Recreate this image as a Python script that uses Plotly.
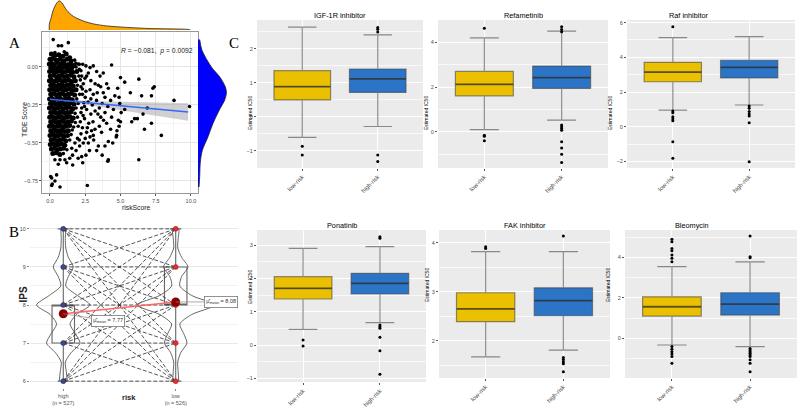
import plotly.graph_objects as go

W, H = 797, 410

def xd(a, b):
    return [a / W, b / W]

def yd(top, bottom):
    return [1 - bottom / H, 1 - top / H]

# ---------------- Panel A data (riskScore vs TIDE Score) ----------------
core_points = [
    (0.10,0.085),(0.35,0.075),(0.62,0.08),(0.90,0.07),(1.15,0.085),(1.40,0.06),
    (0.00,0.05),(0.20,0.055),(0.45,0.045),(0.70,0.05),(0.95,0.04),(1.20,0.05),(1.50,0.04),
    (-0.05,0.02),(0.12,0.025),(0.30,0.015),(0.50,0.03),(0.75,0.02),(0.98,0.025),(1.25,0.015),(1.45,0.02),(1.70,0.01),
    (0.05,-0.005),(0.22,0.0),(0.40,-0.01),(0.60,0.0),(0.85,-0.005),(1.05,0.0),(1.30,-0.01),(1.55,-0.005),
    (-0.03,-0.03),(0.15,-0.025),(0.33,-0.035),(0.52,-0.03),(0.72,-0.025),(0.92,-0.035),(1.12,-0.03),(1.35,-0.025),(1.60,-0.035),(1.90,-0.03),
    (0.02,-0.06),(0.25,-0.055),(0.45,-0.065),(0.65,-0.06),(0.82,-0.055),(1.00,-0.065),(1.22,-0.06),(1.45,-0.055),(1.70,-0.065),
    (-0.04,-0.09),(0.10,-0.085),(0.30,-0.095),(0.50,-0.09),(0.70,-0.085),(0.90,-0.095),(1.10,-0.09),(1.32,-0.085),(1.55,-0.095),(1.80,-0.09),
    (0.05,-0.12),(0.20,-0.115),(0.40,-0.125),(0.60,-0.12),(0.80,-0.115),(1.00,-0.125),(1.20,-0.12),(1.42,-0.115),(1.65,-0.125),
    (-0.02,-0.15),(0.15,-0.145),(0.35,-0.155),(0.55,-0.15),(0.75,-0.145),(0.95,-0.155),(1.15,-0.15),(1.38,-0.145),(1.60,-0.155),(1.85,-0.15),
    (0.05,-0.18),(0.25,-0.175),(0.45,-0.185),(0.65,-0.18),(0.85,-0.175),(1.05,-0.185),(1.28,-0.18),(1.50,-0.175),(1.75,-0.185),
    (-0.03,-0.21),(0.12,-0.205),(0.32,-0.215),(0.52,-0.21),(0.72,-0.205),(0.92,-0.215),(1.12,-0.21),(1.35,-0.205),(1.58,-0.215),
    (0.03,-0.24),(0.22,-0.235),(0.42,-0.245),(0.62,-0.24),(0.82,-0.235),(1.02,-0.245),(1.22,-0.24),(1.45,-0.235),(1.70,-0.245),
    (-0.04,-0.27),(0.15,-0.265),(0.35,-0.275),(0.55,-0.27),(0.75,-0.265),(0.95,-0.275),(1.15,-0.27),(1.38,-0.265),(1.62,-0.275),
    (0.05,-0.30),(0.25,-0.295),(0.45,-0.305),(0.65,-0.30),(0.85,-0.295),(1.05,-0.305),(1.25,-0.30),(1.50,-0.295),
    (-0.02,-0.33),(0.18,-0.325),(0.38,-0.335),(0.58,-0.33),(0.78,-0.325),(0.98,-0.335),(1.18,-0.33),(1.40,-0.325),(1.65,-0.335),
    (0.05,-0.36),(0.25,-0.355),(0.45,-0.365),(0.65,-0.36),(0.85,-0.355),(1.05,-0.365),(1.28,-0.36),(1.52,-0.355),
    (-0.03,-0.39),(0.15,-0.385),(0.35,-0.395),(0.55,-0.39),(0.75,-0.385),(0.95,-0.395),(1.15,-0.39),(1.40,-0.385),
    (0.05,-0.42),(0.25,-0.415),(0.45,-0.425),(0.65,-0.42),(0.85,-0.415),(1.05,-0.425),(1.30,-0.42),
    (0.00,-0.45),(0.20,-0.445),(0.40,-0.455),(0.60,-0.45),(0.80,-0.445),(1.00,-0.455),(1.25,-0.45),
    (0.08,-0.48),(0.28,-0.475),(0.50,-0.485),(0.70,-0.48),(0.90,-0.475),(1.12,-0.485),
    (0.02,-0.51),(0.22,-0.505),(0.42,-0.515),(0.62,-0.51),(0.82,-0.505),(1.05,-0.515),
    (0.10,-0.54),(0.30,-0.535),(0.50,-0.545),(0.72,-0.54),(0.95,-0.535),
    (0.20,-0.57),(0.45,-0.565),(0.70,-0.575),
]
spread_points = [
    (0.23,0.18),(0.59,0.14),(0.83,0.14),(1.30,0.16),(0.35,0.095),(1.01,0.10),
    (1.75,0.045),(2.00,0.02),(1.85,0.0),(2.20,-0.025),(2.05,-0.06),(2.15,-0.085),(1.95,-0.12),
    (2.30,-0.145),(2.10,-0.18),(1.90,-0.21),(2.00,-0.24),(2.40,-0.235),(1.85,-0.27),(1.78,-0.305),
    (2.20,-0.30),(1.95,-0.33),(1.80,-0.365),(1.68,-0.395),(2.00,-0.39),(1.58,-0.415),(1.50,-0.445),
    (1.40,-0.48),(1.20,-0.545),(0.95,-0.57),
    (1.84,0.024),(2.08,0.018),(2.32,0.018),(2.55,0.007),(2.08,-0.015),(2.84,-0.004),(3.07,0.007),
    (3.31,-0.03),(2.72,-0.04),(3.55,-0.06),(3.78,-0.04),(3.43,-0.12),(4.02,-0.11),(4.14,-0.14),
    (3.78,-0.17),(2.84,-0.15),(3.07,-0.18),(4.37,0.013),(2.36,-0.11),(2.48,-0.074),
    (2.50,-0.20),(2.70,-0.23),(3.00,-0.25),(3.30,-0.22),(2.60,-0.28),(2.90,-0.31),(3.20,-0.29),
    (3.50,-0.27),(2.45,-0.34),(2.75,-0.37),(3.05,-0.36),(3.60,-0.33),(3.90,-0.30),(2.30,-0.40),(2.60,-0.43),
    (4.30,-0.22),(4.60,-0.19),(4.50,-0.28),
    (5.00,-0.07),(5.30,-0.10),(6.30,-0.08),(4.80,-0.14),(5.70,-0.17),(6.50,-0.19),(7.20,-0.19),
    (7.30,-0.14),(7.40,-0.13),(8.80,-0.22),(9.90,-0.26),(6.90,-0.27),(5.30,-0.28),(6.60,-0.31),
    (6.20,-0.34),(6.00,-0.34),(5.80,-0.36),(7.20,-0.37),(5.00,-0.36),(4.90,-0.39),(6.70,-0.41),
    (7.90,-0.45),(4.70,-0.46),(6.30,-0.61),(4.10,-0.62),
    (0.35,-0.61),(0.71,-0.61),(1.06,-0.61),(1.18,-0.63),(1.61,-0.645),(0.59,-0.64),(2.32,-0.63),
    (2.25,-0.59),(2.36,-0.50),(2.72,-0.50),(2.84,-0.46),(3.07,-0.45),(3.43,-0.52),(3.31,-0.55),
    (3.19,-0.41),(3.66,-0.43),(4.02,-0.37),(4.37,-0.33),(4.14,-0.49),(4.14,-0.61),(4.73,-0.45),
    (4.85,-0.35),(1.54,-0.535),(1.77,-0.50),(2.08,-0.48),
    (0.12,-0.73),(0.47,-0.71),(0.35,-0.75),(0.12,-0.78),(0.71,-0.79),(2.65,-0.78),(0.05,-0.72),(0.16,-0.77),
    (4.90,-0.20),(4.95,-0.24),(5.05,-0.30),(4.75,-0.42),
    (2.60,-0.06),(2.90,-0.09),(3.20,-0.11),(3.60,-0.13),(2.55,-0.16),(3.35,-0.17),(3.90,-0.20),
    (2.90,-0.21),(3.70,-0.24),(4.10,-0.26),(2.45,-0.26),(3.40,-0.31),(3.80,-0.35),(2.65,-0.40),
    (2.95,-0.42),(3.50,-0.39),(4.30,-0.41),(3.10,-0.48),(2.50,-0.47),(3.90,-0.52),(2.80,-0.55),
    (4.45,-0.50),(3.70,-0.58),(2.55,-0.58),(2.25,-0.06),(2.20,-0.13),(2.30,-0.18),(2.25,-0.27),
    (2.35,-0.32),(2.15,-0.36),(2.20,-0.44),(1.95,-0.47),(2.10,-0.52),(1.85,-0.55),(1.60,-0.58),
    (1.40,-0.60),(2.00,-0.60),
]
fit_x = [0.0, 1.5, 3.0, 5.0, 7.5, 9.8]
fit_y = [-0.213, -0.226, -0.238, -0.255, -0.277, -0.296]
fit_lo = [-0.225, -0.234, -0.252, -0.281, -0.319, -0.353]
fit_hi = [-0.201, -0.218, -0.224, -0.229, -0.235, -0.239]
corr_text = "<i>R</i> = −0.081,  <i>p</i> = 0.0092"

risk_dens_x = [-0.05, -0.05, 0.10, 0.23, 0.47, 0.66, 0.85, 1.18, 1.65, 2.36, 3.07, 4.02, 5.44, 7.09, 9.93, 9.93]
risk_dens_y = [0.0, 0.19, 0.45, 0.68, 0.92, 1.0, 0.93, 0.68, 0.47, 0.31, 0.21, 0.14, 0.09, 0.05, 0.01, 0.0]
tide_dens_y = [0.18, 0.11, 0.0, -0.064, -0.13, -0.17, -0.217, -0.28, -0.37, -0.46, -0.55, -0.63, -0.72, -0.79]
tide_dens_x = [0.06, 0.14, 0.47, 0.76, 0.96, 1.0, 0.94, 0.76, 0.53, 0.35, 0.15, 0.08, 0.06, 0.035]

# ---------------- Panel B data (IPS by risk) ----------------
ips_levels = [6, 7, 8, 9, 10]
ips_grid = [6.0, 6.25, 6.5, 6.75, 7.0, 7.25, 7.5, 7.75, 8.0, 8.25, 8.5, 8.75, 9.0, 9.25, 9.5, 9.75, 10.0]
violin_high = [0.036, 0.027, 0.018, 0.07, 0.149, 0.107, 0.06, 0.116, 0.238, 0.125, 0.022, 0.045, 0.089, 0.045, 0.022, 0.018, 0.018]
violin_low = [0.027, 0.022, 0.018, 0.045, 0.10, 0.071, 0.036, 0.142, 0.347, 0.142, 0.036, 0.053, 0.109, 0.053, 0.018, 0.022, 0.027]
ips_groups = ["high<br>(n = 527)", "low<br>(n = 526)"]
ips_q1 = [7, 8]
ips_median = [8, 8]
ips_q3 = [8, 9]
ips_min = [6, 6]
ips_max = [10, 10]
ips_mean = [7.77, 8.08]

# ---------------- Panel C data (estimated IC50) ----------------
drugs = ["IGF-1R inhibitor", "Refametinib", "Raf inhibitor", "Ponatinib", "FAK inhibitor", "Bleomycin"]
risk_groups = ["low-risk", "high-risk"]
low_q1 = [0.50, 1.61, 2.59, 1.38, 2.39, 1.10]
low_med = [0.89, 2.12, 3.15, 1.70, 2.65, 1.56]
low_q3 = [1.36, 2.70, 3.71, 2.05, 2.98, 2.05]
low_lo = [-0.60, 0.10, 0.96, 0.47, 1.67, -0.33]
low_hi = [2.64, 4.20, 5.13, 2.90, 3.82, 3.54]
high_q1 = [0.72, 1.94, 2.81, 1.53, 2.51, 1.15]
high_med = [1.12, 2.42, 3.42, 1.85, 2.82, 1.69]
high_q3 = [1.41, 2.94, 3.83, 2.15, 3.08, 2.25]
high_lo = [-0.28, 0.52, 1.25, 0.67, 1.81, -0.41]
high_hi = [2.41, 4.50, 5.19, 2.95, 3.82, 3.78]
low_out = [
    [-0.86, -1.12],
    [4.63, -0.15, -0.20, -0.40],
    [5.76, 0.90, 0.80, 0.58, 0.46, 0.35, -0.86, -1.82],
    [0.15, -0.03],
    [3.92, 3.88],
    [4.89, 4.77, 4.44, 4.33, 4.11, 3.95, 3.78, -0.41, -0.54, -0.66, -0.77, -0.90, -1.23],
]
high_out = [
    [2.50, 2.58, 2.63, -1.12, -1.31],
    [4.70, 4.58, 4.47, 0.30, 0.22, 0.15, 0.07, -0.45, -0.72, -1.00, -1.37],
    [1.19, 1.06, 0.87, 0.73, 0.62, 0.23, -2.02],
    [3.25, 3.20, 0.60, 0.55, 0.50, 0.23, -0.17, -0.88],
    [4.14, 1.66, 1.62, 1.57, 1.53, 1.37],
    [5.05, 4.03, 3.98, -0.50, -0.58, -0.66, -0.74, -0.82, -0.90, -1.06, -1.23, -1.65],
]

FONT = "Liberation Sans, Arial, sans-serif"
fig = go.Figure()

# ---- Panel A ----
fig.add_trace(go.Scatter(x=fit_x + fit_x[::-1], y=fit_hi + fit_lo[::-1], fill="toself",
                         fillcolor="rgba(150,150,150,0.45)", line=dict(width=0), mode="lines",
                         xaxis="x", yaxis="y", hoverinfo="skip"))
fig.add_trace(go.Scatter(x=[p[0] for p in core_points], y=[p[1] for p in core_points], mode="markers",
                         marker=dict(color="black", size=5), xaxis="x", yaxis="y", hoverinfo="skip"))
fig.add_trace(go.Scatter(x=[p[0] for p in spread_points], y=[p[1] for p in spread_points], mode="markers",
                         marker=dict(color="black", size=3.6), xaxis="x", yaxis="y", hoverinfo="skip"))
fig.add_trace(go.Scatter(x=fit_x, y=fit_y, mode="lines", line=dict(color="#3366FF", width=1.5),
                         xaxis="x", yaxis="y", hoverinfo="skip"))
fig.add_trace(go.Scatter(x=risk_dens_x, y=risk_dens_y, mode="lines", fill="tozeroy", fillcolor="#FFA500",
                         line=dict(color="#222222", width=0.8, shape="spline", smoothing=0.8),
                         xaxis="x2", yaxis="y2", hoverinfo="skip"))
fig.add_trace(go.Scatter(x=tide_dens_x, y=tide_dens_y, mode="lines", fill="tozerox", fillcolor="#0000FF",
                         line=dict(color="#222222", width=0.8, shape="spline", smoothing=0.8),
                         xaxis="x3", yaxis="y3", hoverinfo="skip"))

# ---- Panel B ----
lx, ly = [], []
for a in ips_levels:
    for b in ips_levels:
        lx += [1, 2, None]
        ly += [a, b, None]
fig.add_trace(go.Scatter(x=lx, y=ly, mode="lines", line=dict(color="rgba(30,30,30,0.85)", width=0.9, dash="4px,2px"),
                         xaxis="x4", yaxis="y4", hoverinfo="skip"))
for gi, widths in enumerate([violin_high, violin_low]):
    c = gi + 1
    vx = [c - w for w in widths] + [c + w for w in widths[::-1]]
    vy = ips_grid + ips_grid[::-1]
    fig.add_trace(go.Scatter(x=vx, y=vy, mode="lines", line=dict(color="#555555", width=0.9, shape="spline", smoothing=0.7),
                             xaxis="x4", yaxis="y4", hoverinfo="skip"))
    fig.add_trace(go.Box(x=[c], q1=[ips_q1[gi]], median=[ips_median[gi]], q3=[ips_q3[gi]],
                         lowerfence=[ips_min[gi]], upperfence=[ips_max[gi]], orientation="v", width=0.2,
                         fillcolor="rgba(0,0,0,0)", line=dict(color="#666666", width=1.1),
                         xaxis="x4", yaxis="y4", hoverinfo="skip"))
fig.add_trace(go.Scatter(x=[1] * len(ips_levels), y=ips_levels, mode="markers",
                         marker=dict(color="#3B4A8C", size=5, line=dict(color="#222244", width=0.5)),
                         xaxis="x4", yaxis="y4", hoverinfo="skip"))
fig.add_trace(go.Scatter(x=[2] * len(ips_levels), y=ips_levels, mode="markers",
                         marker=dict(color="#EE2A24", size=5, line=dict(color="#992222", width=0.5)),
                         xaxis="x4", yaxis="y4", hoverinfo="skip"))
fig.add_trace(go.Scatter(x=[1, 2], y=ips_mean, mode="lines+markers",
                         line=dict(color="#FF6666", width=1.4),
                         marker=dict(color="#8B0000", size=9),
                         xaxis="x4", yaxis="y4", hoverinfo="skip"))

# ---- Panel C ----
YEL, BLU = "#EBC000", "#2C75C6"
for i in range(6):
    ax_, ay_ = "x%d" % (i + 5), "y%d" % (i + 5)
    for pos, col, q1, md, q3, lo, hi, outs in [
        (1, YEL, low_q1[i], low_med[i], low_q3[i], low_lo[i], low_hi[i], low_out[i]),
        (2, BLU, high_q1[i], high_med[i], high_q3[i], high_lo[i], high_hi[i], high_out[i]),
    ]:
        fig.add_trace(go.Box(x=[pos], q1=[q1], median=[md], q3=[q3], lowerfence=[lo], upperfence=[hi],
                             orientation="v", width=0.75, fillcolor=col,
                             line=dict(color="rgba(70,70,70,0.6)", width=1.2),
                             xaxis=ax_, yaxis=ay_, hoverinfo="skip"))
        fig.add_trace(go.Scatter(x=[pos - 0.375, pos + 0.375], y=[md, md], mode="lines",
                                 line=dict(color="rgba(40,40,40,0.6)", width=1.8),
                                 xaxis=ax_, yaxis=ay_, hoverinfo="skip"))
        fig.add_trace(go.Scatter(x=[pos] * len(outs), y=outs, mode="markers",
                                 marker=dict(color="black", size=3),
                                 xaxis=ax_, yaxis=ay_, hoverinfo="skip"))

# ---------------- Layout ----------------
tickfont = dict(family=FONT, size=5.5, color="#4D4D4D")
layout = dict(
    width=W, height=H, margin=dict(l=0, r=0, t=0, b=0),
    paper_bgcolor="white", plot_bgcolor="rgba(0,0,0,0)",
    showlegend=False, boxmode="overlay", font=dict(family=FONT),
)
layout["xaxis"] = dict(domain=xd(42, 198), range=[-0.567, 10.5], tickvals=[0, 2.5, 5, 7.5, 10],
                       ticktext=["0.0", "2.5", "5.0", "7.5", "10.0"], tickfont=tickfont,
                       showgrid=True, gridcolor="#E5E5E5", gridwidth=0.7,
                       minor=dict(showgrid=True, gridcolor="#F3F3F3", gridwidth=0.5, tickvals=[1.25, 3.75, 6.25, 8.75]),
                       showline=True, mirror=True, linecolor="#999999", linewidth=0.8,
                       ticks="outside", ticklen=2, tickcolor="#555555", zeroline=False, anchor="y")
layout["yaxis"] = dict(domain=yd(32, 193), range=[-0.829, 0.23], tickvals=[-0.75, -0.5, -0.25, 0],
                       ticktext=["−0.75", "−0.50", "−0.25", "0.00"], tickfont=tickfont,
                       showgrid=True, gridcolor="#E5E5E5", gridwidth=0.7,
                       minor=dict(showgrid=True, gridcolor="#F3F3F3", gridwidth=0.5, tickvals=[-0.625, -0.375, -0.125, 0.125]),
                       showline=True, mirror=True, linecolor="#999999", linewidth=0.8,
                       ticks="outside", ticklen=2, tickcolor="#555555", zeroline=False, anchor="x")
layout["xaxis2"] = dict(domain=xd(42, 198), range=[-0.567, 10.5], visible=False, anchor="y2")
layout["yaxis2"] = dict(domain=yd(0, 30), range=[0, 1.03], visible=False, anchor="x2")
layout["xaxis3"] = dict(domain=xd(198, 227), range=[0, 1.02], visible=False, anchor="y3")
layout["yaxis3"] = dict(domain=yd(32, 193), range=[-0.829, 0.23], visible=False, anchor="x3")
layout["xaxis4"] = dict(domain=xd(30, 238), range=[0.704, 2.554], tickvals=[1, 2], ticktext=ips_groups,
                        tickfont=dict(family=FONT, size=5.5, color="#555555"), showgrid=False, zeroline=False,
                        ticks="outside", ticklen=2, tickcolor="#888888", anchor="y4")
layout["yaxis4"] = dict(domain=yd(222, 388), range=[5.82, 10.18], tickvals=ips_levels, tickfont=tickfont,
                        showgrid=True, gridcolor="#E8E8E8", gridwidth=0.7,
                        minor=dict(showgrid=True, gridcolor="#F2F2F2", gridwidth=0.5, tickvals=[6.5, 7.5, 8.5, 9.5]),
                        zeroline=False, ticks="outside", ticklen=2, tickcolor="#888888", anchor="x4")

c_dom = [(257, 423, 20, 168), (438, 608, 20, 168), (627, 795, 20, 168),
         (257, 426, 230, 382), (439, 610, 230, 378), (625, 797, 230, 378)]
c_yr = [[-1.5, 2.85], [-1.62, 5.0], [-2.38, 6.15], [-1.11, 3.45], [1.24, 4.26], [-1.96, 5.35]]
c_dt = [1, 2, 2, 1, 1, 2]
shapes = []
annotations = []
for i in range(6):
    l, r, t, b = c_dom[i]
    n = i + 5
    layout["xaxis%d" % n] = dict(domain=xd(l, r), range=[0.4, 2.6], tickvals=[1, 2], ticktext=risk_groups,
                                 tickangle=-45, tickfont=dict(family=FONT, size=6, color="#4D4D4D"),
                                 showgrid=True, gridcolor="white", gridwidth=1, zeroline=False,
                                 ticks="outside", ticklen=2, tickcolor="#555555", anchor="y%d" % n)
    layout["yaxis%d" % n] = dict(domain=yd(t, b), range=c_yr[i], dtick=c_dt[i], tick0=0, tickfont=tickfont,
                                 showgrid=True, gridcolor="white", gridwidth=1, zeroline=False,
                                 minor=dict(showgrid=True, gridcolor="rgba(255,255,255,0.7)", gridwidth=0.5, dtick=c_dt[i] / 2),
                                 ticks="outside", ticklen=2, tickcolor="#555555", anchor="x%d" % n)
    shapes.append(dict(type="rect", xref="x%d domain" % n, yref="y%d domain" % n, x0=0, x1=1, y0=0, y1=1,
                       fillcolor="#EBEBEB", line=dict(width=0), layer="below"))
    annotations.append(dict(text=drugs[i], x=(l + r) / 2 / W, y=1 - (t - 5) / H, xref="paper", yref="paper",
                            showarrow=False, font=dict(family=FONT, size=7.3, color="black"), yanchor="middle"))
    annotations.append(dict(text="Estimated IC50", x=(l - 12) / W, y=1 - ((t + b) / 2) / H, xref="paper", yref="paper",
                            showarrow=False, textangle=-90, font=dict(family=FONT, size=5, color="black")))

annotations += [
    dict(text=corr_text, x=195 / W, y=1 - 45 / H, xref="paper", yref="paper", xanchor="right", showarrow=False,
         font=dict(family=FONT, size=6.8, color="#222222")),
    dict(text="TIDE Score", x=19 / W, y=1 - 100 / H, xref="paper", yref="paper", textangle=-90, showarrow=False,
         font=dict(family=FONT, size=6.8, color="#222222")),
    dict(text="riskScore", x=120 / W, y=1 - 207 / H, xref="paper", yref="paper", showarrow=False,
         font=dict(family=FONT, size=6.8, color="#222222")),
    dict(text="<b>IPS</b>", x=15 / W, y=1 - 305 / H, xref="paper", yref="paper", textangle=-90, showarrow=False,
         font=dict(family=FONT, size=10, color="#222222")),
    dict(text="<b>risk</b>", x=120 / W, y=1 - 404 / H, xref="paper", yref="paper", showarrow=False,
         font=dict(family=FONT, size=7.5, color="#222222")),
    dict(text="μ̂<sub>mean</sub> = 7.77", x=1, y=ips_mean[0], xref="x4", yref="y4", ax=45, ay=7,
         showarrow=True, arrowhead=0, arrowwidth=0.7, arrowcolor="#888888",
         bordercolor="#777777", borderwidth=0.8, borderpad=1.5, bgcolor="white",
         font=dict(family=FONT, size=5.5, color="#333333")),
    dict(text="μ̂<sub>mean</sub> = 8.08", x=2, y=ips_mean[1], xref="x4", yref="y4", ax=45, ay=0,
         showarrow=True, arrowhead=0, arrowwidth=0.7, arrowcolor="#888888",
         bordercolor="#777777", borderwidth=0.8, borderpad=1.5, bgcolor="white",
         font=dict(family=FONT, size=5.5, color="#333333")),
    dict(text="A", x=7 / W, y=1 - 33 / H, xref="paper", yref="paper", showarrow=False,
         font=dict(family="Liberation Serif, Times New Roman, serif", size=15, color="black")),
    dict(text="B", x=7 / W, y=1 - 232 / H, xref="paper", yref="paper", showarrow=False,
         font=dict(family="Liberation Serif, Times New Roman, serif", size=15, color="black")),
    dict(text="C", x=227 / W, y=1 - 33 / H, xref="paper", yref="paper", showarrow=False,
         font=dict(family="Liberation Serif, Times New Roman, serif", size=15, color="black")),
]
layout["shapes"] = shapes
layout["annotations"] = annotations
fig.update_layout(**layout)
fig.write_html("out.html")
